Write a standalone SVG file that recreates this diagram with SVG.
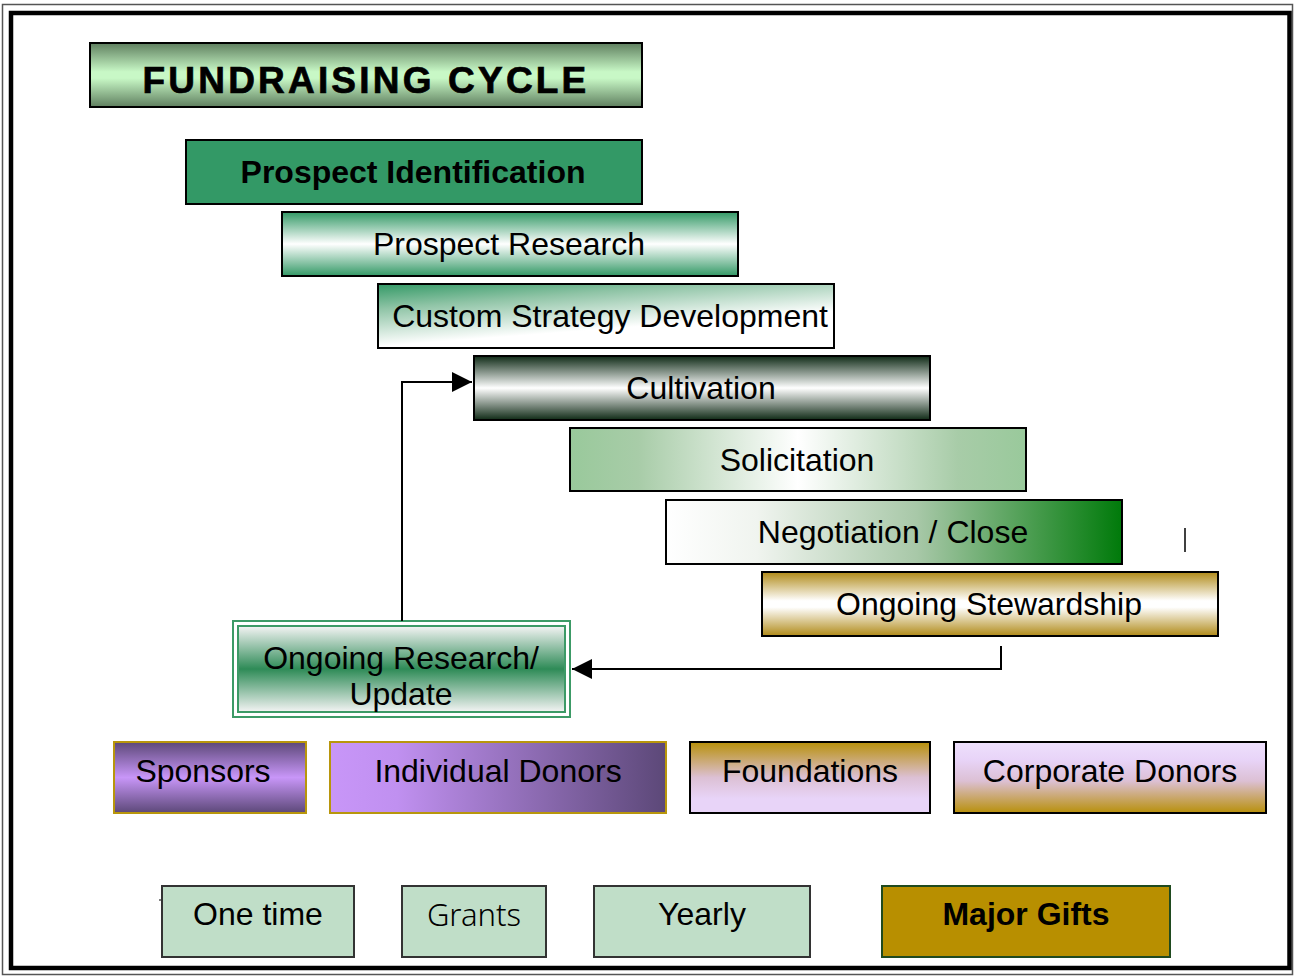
<svg xmlns="http://www.w3.org/2000/svg" width="1295" height="976" viewBox="0 0 1295 976">
<defs>
<style>
.t{font-family:"Liberation Sans",Arial,sans-serif;font-size:32px;fill:#000;text-anchor:middle}
.b{font-weight:bold}
.box{stroke:#000;stroke-width:2}
.low{fill:#c0dec8;stroke:#333;stroke-width:2}
.gold{stroke:#b8960c;stroke-width:2}
.conn{fill:none;stroke:#000;stroke-width:2}
</style>
<marker id="ahL" viewBox="0 0 20 20" refX="20" refY="10" markerWidth="20" markerHeight="20" markerUnits="userSpaceOnUse" orient="auto"><path d="M0,0 L20,10 L0,20 z" fill="#000"/></marker>
<linearGradient id="gTitle" x1="0" y1="0" x2="0" y2="1"><stop offset="0" stop-color="#5f7f5f"/><stop offset="0.45" stop-color="#c8f8c6"/><stop offset="0.55" stop-color="#c8f8c6"/><stop offset="1" stop-color="#5f7f5f"/></linearGradient>
<linearGradient id="gResearch" x1="0" y1="0" x2="0" y2="1"><stop offset="0" stop-color="#339966"/><stop offset="0.5" stop-color="#ffffff"/><stop offset="1" stop-color="#339966"/></linearGradient>
<linearGradient id="gCustom" x1="0" y1="0" x2="0.55" y2="1"><stop offset="0" stop-color="#339966"/><stop offset="0.3" stop-color="#8fc4a6"/><stop offset="0.75" stop-color="#ffffff"/><stop offset="1" stop-color="#ffffff"/></linearGradient>
<linearGradient id="gCult" x1="0" y1="0" x2="0" y2="1"><stop offset="0" stop-color="#0f2a16"/><stop offset="0.5" stop-color="#ffffff"/><stop offset="1" stop-color="#0f2a16"/></linearGradient>
<linearGradient id="gSolic" x1="0" y1="0" x2="1" y2="0"><stop offset="0" stop-color="#99c99b"/><stop offset="0.15" stop-color="#a8cca8"/><stop offset="0.5" stop-color="#ffffff"/><stop offset="0.85" stop-color="#a8cca8"/><stop offset="1" stop-color="#99c99b"/></linearGradient>
<linearGradient id="gNeg" x1="0" y1="0" x2="1" y2="0"><stop offset="0" stop-color="#ffffff"/><stop offset="0.2" stop-color="#f0f4ef"/><stop offset="0.55" stop-color="#a8c8a8"/><stop offset="1" stop-color="#007a0a"/></linearGradient>
<linearGradient id="gStew" x1="0" y1="0" x2="0" y2="1"><stop offset="0" stop-color="#b08a18"/><stop offset="0.45" stop-color="#ffffff"/><stop offset="0.55" stop-color="#ffffff"/><stop offset="1" stop-color="#b08a18"/></linearGradient>
<linearGradient id="gOngo" x1="0" y1="0" x2="0" y2="1"><stop offset="0" stop-color="#f4f4f4"/><stop offset="0.5" stop-color="#2e8b57"/><stop offset="1" stop-color="#f4f4f4"/></linearGradient>
<linearGradient id="gSpon" x1="0" y1="0" x2="0" y2="1"><stop offset="0" stop-color="#5c4878"/><stop offset="0.5" stop-color="#c896f8"/><stop offset="1" stop-color="#5c4878"/></linearGradient>
<linearGradient id="gIndiv" x1="0" y1="0" x2="1" y2="0"><stop offset="0" stop-color="#c896f8"/><stop offset="0.2" stop-color="#c090f0"/><stop offset="1" stop-color="#5c4878"/></linearGradient>
<linearGradient id="gFound" x1="0" y1="0" x2="0" y2="1"><stop offset="0" stop-color="#b8900a"/><stop offset="0.5" stop-color="#dcc0d4"/><stop offset="0.8" stop-color="#e8d4f8"/><stop offset="1" stop-color="#e8d4f8"/></linearGradient>
<linearGradient id="gCorp" x1="0" y1="0" x2="0" y2="1"><stop offset="0" stop-color="#eee0fc"/><stop offset="0.25" stop-color="#e8d4f8"/><stop offset="0.55" stop-color="#dcc0d4"/><stop offset="1" stop-color="#b8900a"/></linearGradient>
</defs>
<rect x="0" y="0" width="1295" height="976" fill="#fff"/>
<rect x="2.5" y="4.5" width="1290" height="970" fill="none" stroke="#555" stroke-width="1.5"/>
<rect x="11" y="13" width="1278.5" height="955" fill="none" stroke="#000" stroke-width="4.5"/>

<g id="title"><rect class="box" x="90" y="43" width="552" height="64" fill="url(#gTitle)"/><text class="t b" x="366" y="93" style="font-size:37px;letter-spacing:3.2px" stroke="#000" stroke-width="0.7">FUNDRAISING CYCLE</text></g>
<g id="prospect-identification"><rect class="box" x="186" y="140" width="456" height="64" fill="#339966"/><text class="t b" x="413" y="183">Prospect Identification</text></g>
<g id="prospect-research"><rect class="box" x="282" y="212" width="456" height="64" fill="url(#gResearch)"/><text class="t" x="509" y="255">Prospect Research</text></g>
<g id="custom-strategy"><rect class="box" x="378" y="284" width="456" height="64" fill="url(#gCustom)"/><text class="t" x="610" y="327">Custom Strategy Development</text></g>
<g id="cultivation"><rect class="box" x="474" y="356" width="456" height="64" fill="url(#gCult)"/><text class="t" x="701" y="399">Cultivation</text></g>
<g id="solicitation"><rect class="box" x="570" y="428" width="456" height="63" fill="url(#gSolic)"/><text class="t" x="797" y="471">Solicitation</text></g>
<g id="negotiation"><rect class="box" x="666" y="500" width="456" height="64" fill="url(#gNeg)"/><text class="t" x="893" y="543">Negotiation / Close</text></g>
<g id="stewardship"><rect class="box" x="762" y="572" width="456" height="64" fill="url(#gStew)"/><text class="t" x="989" y="615">Ongoing Stewardship</text></g>
<g id="ongoing-research"><rect x="233" y="621" width="337" height="96" fill="none" stroke="#3c9a66" stroke-width="2"/><rect x="238" y="626" width="327" height="86" fill="url(#gOngo)" stroke="#3c9a66" stroke-width="2"/><text class="t" x="401" y="669">Ongoing Research/</text><text class="t" x="401" y="705">Update</text></g>

<g id="connectors">
<path class="conn" d="M402,621 V382 H472" marker-end="url(#ahL)"/>
<path class="conn" d="M1001,646 V669 H572" marker-end="url(#ahL)"/>
<line x1="1185" y1="528" x2="1185" y2="552" stroke="#000" stroke-width="1.5"/>
<line x1="159" y1="900" x2="162" y2="900" stroke="#000" stroke-width="1"/>
</g>

<g id="sponsors"><rect class="gold" x="114" y="742" width="192" height="71" fill="url(#gSpon)"/><text class="t" x="203" y="782">Sponsors</text></g>
<g id="individual-donors"><rect class="gold" x="330" y="742" width="336" height="71" fill="url(#gIndiv)"/><text class="t" x="498" y="782">Individual Donors</text></g>
<g id="foundations"><rect class="box" x="690" y="742" width="240" height="71" fill="url(#gFound)"/><text class="t" x="810" y="782">Foundations</text></g>
<g id="corporate-donors"><rect class="box" x="954" y="742" width="312" height="71" fill="url(#gCorp)"/><text class="t" x="1110" y="782">Corporate Donors</text></g>

<g id="one-time"><rect class="low" x="162" y="886" width="192" height="71"/><text class="t" x="258" y="925">One time</text></g>
<g id="grants"><rect class="low" x="402" y="886" width="144" height="71"/><text class="t" x="474" y="926" style="font-family:'Noto Sans','DejaVu Sans',sans-serif;font-weight:300;font-size:31px">Grants</text></g>
<g id="yearly"><rect class="low" x="594" y="886" width="216" height="71"/><text class="t" x="702" y="925">Yearly</text></g>
<g id="major-gifts"><rect x="882" y="886" width="288" height="71" fill="#b88f00" stroke="#1f4a1f" stroke-width="2"/><text class="t b" x="1026" y="925">Major Gifts</text></g>
</svg>
